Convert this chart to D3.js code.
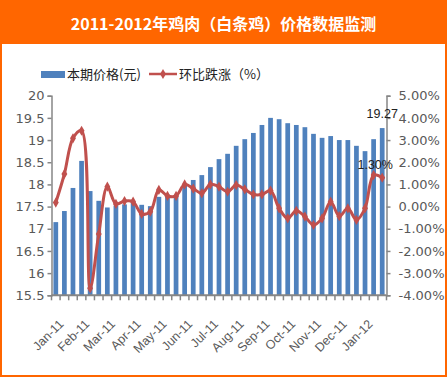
<!DOCTYPE html>
<html>
<head>
<meta charset="utf-8">
<script src="https://cdn.jsdelivr.net/npm/d3@7"></script>
<style>
  html, body { margin: 0; padding: 0; background: #fff; }
  svg { display: block; }
</style>
</head>
<body>
<svg id="chart" width="447" height="377"></svg>
<script>
// ---- data ----
const title = "2011-2012年鸡肉（白条鸡）价格数据监测";
const seriesNames = ["本期价格(元)", "环比跌涨（%）"];
const categories = [
  "2011-01上旬","2011-01中旬","2011-01下旬",
  "2011-02上旬","2011-02中旬","2011-02下旬",
  "2011-03上旬","2011-03中旬","2011-03下旬",
  "2011-04上旬","2011-04中旬","2011-04下旬",
  "2011-05上旬","2011-05中旬","2011-05下旬",
  "2011-06上旬","2011-06中旬","2011-06下旬",
  "2011-07上旬","2011-07中旬","2011-07下旬",
  "2011-08上旬","2011-08中旬","2011-08下旬",
  "2011-09上旬","2011-09中旬","2011-09下旬",
  "2011-10上旬","2011-10中旬","2011-10下旬",
  "2011-11上旬","2011-11中旬","2011-11下旬",
  "2011-12上旬","2011-12中旬","2011-12下旬",
  "2012-01上旬","2012-01中旬","2012-01下旬"
];
const prices = [
  17.15, 17.40, 17.92, 18.53, 17.85, 17.63, 17.48, 17.52, 17.55, 17.60,
  17.54, 17.51, 17.72, 17.77, 17.74, 17.99, 18.10, 18.21, 18.39, 18.57,
  18.69, 18.87, 19.02, 19.16, 19.34, 19.50, 19.47, 19.38, 19.34, 19.29,
  19.14, 19.05, 19.09, 19.00, 19.00, 18.87, 18.75, 19.02, 19.27
];
const changes = [
  0.18, 1.47, 3.08, 3.42, -3.68, -1.24, 0.90, 0.12, 0.25, 0.22,
  -0.33, -0.23, 0.75, 0.48, 0.48, 1.00, 0.81, 0.60, 1.00, 0.90,
  0.67, 0.97, 0.78, 0.55, 0.55, 0.72, -0.08, -0.53, -0.19, -0.45,
  -0.83, -0.53, 0.22, -0.43, -0.08, -0.60, -0.08, 1.42, 1.30
];
const monthLabels = ["Jan-11","Feb-11","Mar-11","Apr-11","May-11","Jun-11","Jul-11",
  "Aug-11","Sep-11","Oct-11","Nov-11","Dec-11","Jan-12"];
const leftTicks = [15.5, 16, 16.5, 17, 17.5, 18, 18.5, 19, 19.5, 20];
const rightTicks = [-4, -3, -2, -1, 0, 1, 2, 3, 4, 5];

// ---- layout ----
const W = 447, H = 377;
const plot = { left: 51.5, right: 386.5, top: 95.7, bottom: 295.3 };
const barColor = "#4F81BD", lineColor = "#C0504D", axisColor = "#868686";
const textColor = "#595959";
const orange = "#FF6600";
const axisFont = "DejaVu Sans, sans-serif";
const catFont = "Liberation Sans, Arial, sans-serif";

const svg = d3.select("#chart");

// frame
svg.append("rect").attr("x", 1).attr("y", 1).attr("width", W - 2).attr("height", H - 2)
  .attr("fill", "#fff").attr("stroke", orange).attr("stroke-width", 2);
svg.append("rect").attr("x", 0).attr("y", 0).attr("width", W).attr("height", 44).attr("fill", orange);
svg.append("text").attr("x", W / 2).attr("y", 30).attr("text-anchor", "middle")
  .attr("fill", "#fff").attr("font-family", "Noto Sans CJK SC, sans-serif")
  .attr("font-weight", "bold").attr("font-size", 16).text(title);

// scales
const x = d3.scaleBand().domain(categories).range([plot.left, plot.right])
  .paddingInner(0.45).paddingOuter(0.225);
const yL = d3.scaleLinear().domain([15.5, 20]).range([plot.bottom, plot.top]);
const yR = d3.scaleLinear().domain([-4, 5]).range([plot.bottom, plot.top]);
const cx = d => x(d) + x.bandwidth() / 2;

// bars
svg.append("g").selectAll("rect").data(prices).join("rect")
  .attr("x", (d, i) => x(categories[i]))
  .attr("width", x.bandwidth())
  .attr("y", d => yL(d))
  .attr("height", d => yL(15.5) - yL(d))
  .attr("fill", barColor);

// y axes
const axL = svg.append("g").attr("transform", `translate(${plot.left},0)`)
  .call(d3.axisLeft(yL).tickValues(leftTicks).tickSize(4).tickPadding(3).tickFormat(d3.format("")));
const axR = svg.append("g").attr("transform", `translate(${plot.right},0)`)
  .call(d3.axisRight(yR).tickValues(rightTicks).tickSize(4).tickPadding(8).tickFormat(d => d.toFixed(2) + "%"));
[axL, axR].forEach(a => {
  a.select(".domain").attr("stroke", axisColor).attr("stroke-width", 1.5);
  a.selectAll(".tick line").attr("stroke", axisColor).attr("stroke-width", 1.5);
  a.selectAll(".tick text").attr("fill", textColor).attr("font-family", axisFont).attr("font-size", 13);
});

// bottom axis with ticks at band boundaries
const step = x.step();
const boundaries = categories.map(c => x(c) - x.paddingInner() * step / 2).concat([plot.right]);
const axB = svg.append("g");
axB.append("line").attr("x1", plot.left).attr("x2", plot.right)
  .attr("y1", plot.bottom).attr("y2", plot.bottom)
  .attr("stroke", axisColor).attr("stroke-width", 2);
axB.selectAll("line.tk").data(boundaries).join("line").attr("class", "tk")
  .attr("x1", d => d).attr("x2", d => d).attr("y1", plot.bottom).attr("y2", plot.bottom + 5)
  .attr("stroke", axisColor).attr("stroke-width", 1.5);
axB.selectAll("text").data(monthLabels).join("text")
  .attr("transform", (d, i) => `translate(${cx(categories[i * 3]) + 8.5},${plot.bottom + 29.5}) rotate(-45)`)
  .attr("text-anchor", "end")
  .attr("fill", textColor).attr("font-family", catFont).attr("font-size", 12.5)
  .text(d => d);

// line
const line = d3.line().x((d, i) => cx(categories[i])).y(d => yR(d)).curve(d3.curveCatmullRom.alpha(0.5));
svg.append("path").datum(changes).attr("d", line)
  .attr("fill", "none").attr("stroke", lineColor).attr("stroke-width", 3);
svg.append("g").selectAll("path").data(changes).join("path")
  .attr("transform", (d, i) => `translate(${cx(categories[i])},${yR(d)})`)
  .attr("d", d3.symbol(d3.symbolDiamond, 30)).attr("fill", lineColor);

// data labels
const last = prices.length - 1;
svg.append("text").attr("x", cx(categories[last])).attr("y", yL(prices[last]) - 10)
  .attr("text-anchor", "middle").attr("fill", "#222").attr("font-family", catFont).attr("font-size", 12.5)
  .text(prices[last].toFixed(2));
svg.append("text").attr("x", cx(categories[last]) - 7).attr("y", yR(changes[last]) - 9)
  .attr("text-anchor", "middle").attr("fill", "#222").attr("font-family", catFont).attr("font-size", 12.5)
  .text(changes[last].toFixed(2) + "%");

// legend
const lg = svg.append("g").attr("font-family", "Noto Sans CJK SC, sans-serif").attr("font-size", 13).attr("fill", "#222");
lg.append("rect").attr("x", 41).attr("y", 71).attr("width", 24).attr("height", 7).attr("fill", barColor);
lg.append("text").attr("x", 67).attr("y", 79).text(seriesNames[0]);
lg.append("line").attr("x1", 149).attr("x2", 177).attr("y1", 74).attr("y2", 74)
  .attr("stroke", lineColor).attr("stroke-width", 2.5);
lg.append("path").attr("transform", "translate(163,74)").attr("d", d3.symbol(d3.symbolDiamond, 30)).attr("fill", lineColor);
lg.append("text").attr("x", 179).attr("y", 79).text(seriesNames[1]);
</script>
</body>
</html>
